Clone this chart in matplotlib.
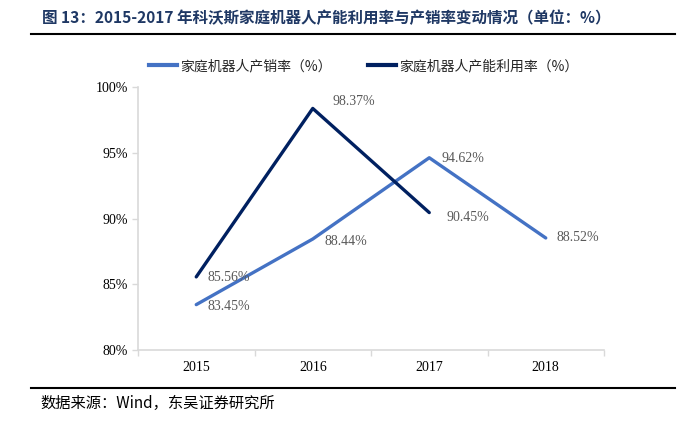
import matplotlib
matplotlib.use("Agg")
import matplotlib.pyplot as plt
from matplotlib.lines import Line2D
from matplotlib.ticker import FixedLocator, FuncFormatter

years = ["2015", "2016", "2017", "2018"]
sales_rate = [83.45, 88.44, 94.62, 88.52]          # 家庭机器人产销率
util_rate = [85.56, 98.37, 90.45]                  # 家庭机器人产能利用率
yticks = [80, 85, 90, 95, 100]

title = "图 13：2015-2017 年科沃斯家庭机器人产能利用率与产销率变动情况（单位：%）"
source = "数据来源：Wind，东吴证券研究所"
label_sales = "家庭机器人产销率（%）"
label_util = "家庭机器人产能利用率（%）"

c_sales = "#4472C4"
c_util = "#002060"
serif = ["Liberation Serif", "DejaVu Serif"]
cjk = ["Noto Sans CJK SC", "DejaVu Sans"]

fig = plt.figure(figsize=(6.96, 4.21), dpi=100)
W, H = 696, 421
ax = fig.add_axes([138 / W, 1 - 350 / H, (604 - 138) / W, (350 - 87) / H])

x_s = list(range(len(sales_rate)))
x_u = list(range(len(util_rate)))
ax.plot(x_s, sales_rate, color=c_sales, lw=2.4, solid_capstyle="round", zorder=3)
ax.plot(x_u, util_rate, color=c_util, lw=2.4, solid_capstyle="round", zorder=3)

ax.set_xlim(-0.5, len(years) - 0.5)
ax.set_ylim(80, 100)
ax.set_yticks(yticks)
ax.yaxis.set_major_formatter(FuncFormatter(lambda v, p: f"{v:.0f}%"))
ax.set_xticks(x_s)
ax.set_xticklabels(years)
ax.xaxis.set_minor_locator(FixedLocator([i - 0.5 for i in range(len(years) + 1)]))
ax.tick_params(axis="x", which="major", length=0, pad=8)
ax.tick_params(axis="x", which="minor", length=4, color="#D9D9D9", width=1)
ax.tick_params(axis="y", length=4, color="#D9D9D9", width=1, pad=3)
for lab in ax.get_xticklabels() + ax.get_yticklabels():
    lab.set_fontfamily(serif)
    lab.set_fontsize(10)
    lab.set_color("black")
for s in ["top", "right"]:
    ax.spines[s].set_visible(False)
for s in ["left", "bottom"]:
    ax.spines[s].set_color("#D9D9D9")
    ax.spines[s].set_linewidth(1.2)

# data labels (offsets in pixels)
lab_kw = dict(textcoords="offset pixels", fontsize=10, color="#595959",
              fontfamily=serif, ha="left", va="center", zorder=4)
sales_off = [(11, -2), (12, -2), (12, -1), (11, 0)]
util_off = [(11, -1), (20, 7), (17, -5)]
for i, v in enumerate(sales_rate):
    ax.annotate(f"{v:.2f}%", (x_s[i], v), xytext=sales_off[i], **lab_kw)
for i, v in enumerate(util_rate):
    ax.annotate(f"{v:.2f}%", (x_u[i], v), xytext=util_off[i], **lab_kw)

# legend
handles = [Line2D([], [], color=c_sales, lw=3), Line2D([], [], color=c_util, lw=3)]
leg = fig.legend(handles, [label_sales, label_util], loc="center", ncol=2,
                 bbox_to_anchor=(364 / W, 1 - 66 / H), frameon=False,
                 prop={"family": cjk, "size": 10}, handlelength=2.0,
                 handletextpad=0.25, columnspacing=2.6)
for t in leg.get_texts():
    t.set_color("#262626")

# title and source
fig.text(42 / W, 1 - 18 / H, title, fontsize=11.2, fontweight="bold",
         color="#1F3864", fontfamily=cjk, ha="left", va="center")
fig.add_artist(Line2D([31 / W, 675 / W], [1 - 34 / H, 1 - 34 / H], color="black", lw=1.5))
fig.add_artist(Line2D([31 / W, 675 / W], [1 - 388 / H, 1 - 388 / H], color="black", lw=1.5))
fig.text(40 / W, 1 - 403 / H, source, fontsize=11, color="black",
         fontfamily=cjk, ha="left", va="center")

fig.savefig("out.png", dpi=100)
